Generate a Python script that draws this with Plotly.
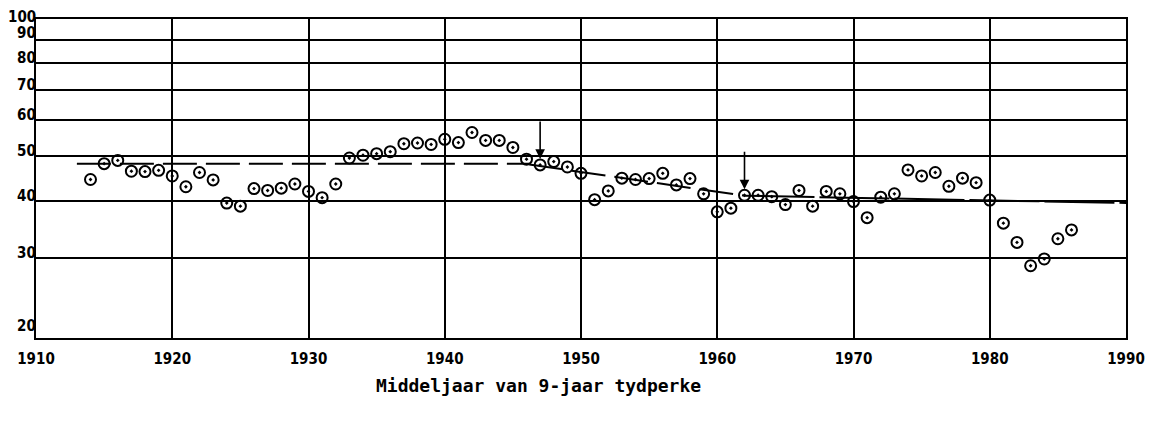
import math
import plotly.graph_objects as go

# ---- data ----
years = list(range(1914, 1987))
values = [44.5, 48.2, 49.0, 46.4, 46.3, 46.6, 45.3, 42.9, 46.1, 44.4,
          39.5, 38.9, 42.5, 42.1, 42.6, 43.5, 41.9, 40.6, 43.5, 49.6,
          50.3, 50.7, 51.2, 53.3, 53.5, 53.1, 54.5, 53.6, 56.4, 54.2,
          54.2, 52.3, 49.3, 47.9, 48.7, 47.4, 45.9, 40.2, 42.0, 44.8,
          44.5, 44.7, 45.9, 43.3, 44.7, 41.4, 37.8, 38.5, 41.1, 41.1,
          40.8, 39.2, 42.1, 38.9, 41.9, 41.4, 39.8, 36.7, 40.7, 41.4,
          46.7, 45.3, 46.1, 43.0, 44.8, 43.8, 40.1, 35.7, 32.4, 28.8,
          29.8, 33.0, 34.5]

trend1_x = [1913, 1946.2]
trend1_y = [48.2, 48.2]
trend2_x = [1946.2, 1962]
trend2_y = [48.0, 41.0]
trend3_x = [1962, 1990.5]
trend3_y = [41.0, 39.5]

arrow_years = [1947, 1962]

y_ticks = [20, 30, 40, 50, 60, 70, 80, 90, 100]
x_ticks = [1910, 1920, 1930, 1940, 1950, 1960, 1970, 1980, 1990]
x_title = "Middeljaar van 9-jaar tydperke"

FAMILY = "DejaVu Sans Condensed, Liberation Sans Narrow, Liberation Sans, sans-serif"
X_TICK_FONT = dict(family=FAMILY, size=15, color="black", weight="bold")
Y_TICK_FONT = dict(family=FAMILY, size=15, color="black", weight="bold")

fig = go.Figure()

for tx, ty, dash in [(trend1_x, trend1_y, "34px,9px"),
                     (trend2_x, trend2_y, "34px,9px"),
                     (trend3_x, trend3_y, "70px,5px")]:
    fig.add_trace(go.Scatter(x=tx, y=ty, mode="lines",
                             line=dict(color="black", width=2, dash=dash),
                             hoverinfo="skip", showlegend=False))

fig.add_trace(go.Scatter(
    x=years, y=values, mode="markers", showlegend=False,
    marker=dict(symbol="circle-open-dot", size=11, color="black",
                line=dict(color="black", width=2))))

for ay_year in arrow_years:
    v = values[years.index(ay_year)]
    fig.add_annotation(x=ay_year, y=math.log10(v), xref="x", yref="y",
                       text="", showarrow=True, arrowhead=2, arrowsize=1.2,
                       arrowwidth=1.6, arrowcolor="black",
                       ax=0, ay=-45, axref="pixel", ayref="pixel", standoff=6)

# y tick labels sit slightly above their gridlines, as in the reference
LIFT = {20: 12, 90: 7, 100: 2}
for t in y_ticks:
    fig.add_annotation(text=str(t), xref="paper", yref="y", x=0,
                       y=math.log10(t), xanchor="right", yanchor="middle",
                       xshift=1, yshift=LIFT.get(t, 5), showarrow=False,
                       borderpad=0, font=Y_TICK_FONT)

fig.add_annotation(text=x_title, xref="paper", yref="paper",
                   x=(538 - 36) / (1126 - 36), y=-(385 - 338) / (338 - 19),
                   xanchor="center", yanchor="middle", showarrow=False,
                   font=dict(family="DejaVu Sans Mono, monospace", size=18,
                             color="black", weight="bold"))

fig.update_xaxes(range=[1910, 1990], tickvals=x_ticks,
                 ticktext=[str(t) for t in x_ticks],
                 showgrid=True, gridcolor="black", gridwidth=2,
                 showline=True, linecolor="black", linewidth=2, mirror=True,
                 ticks="", tickfont=X_TICK_FONT, zeroline=False,
                 automargin=False, ticklabelstandoff=6)

fig.update_yaxes(type="log", range=[math.log10(20), math.log10(100)],
                 tickvals=y_ticks, showticklabels=False,
                 showgrid=True, gridcolor="black", gridwidth=2,
                 showline=True, linecolor="black", linewidth=2, mirror=True,
                 ticks="", zeroline=False, automargin=False)

# the page body adds an 8 px offset, so margins are reduced on the left/top
fig.update_layout(width=1156, height=429,
                  margin=dict(l=28, r=38, t=11, b=99),
                  paper_bgcolor="white", plot_bgcolor="white")

fig.write_html("out.html")
